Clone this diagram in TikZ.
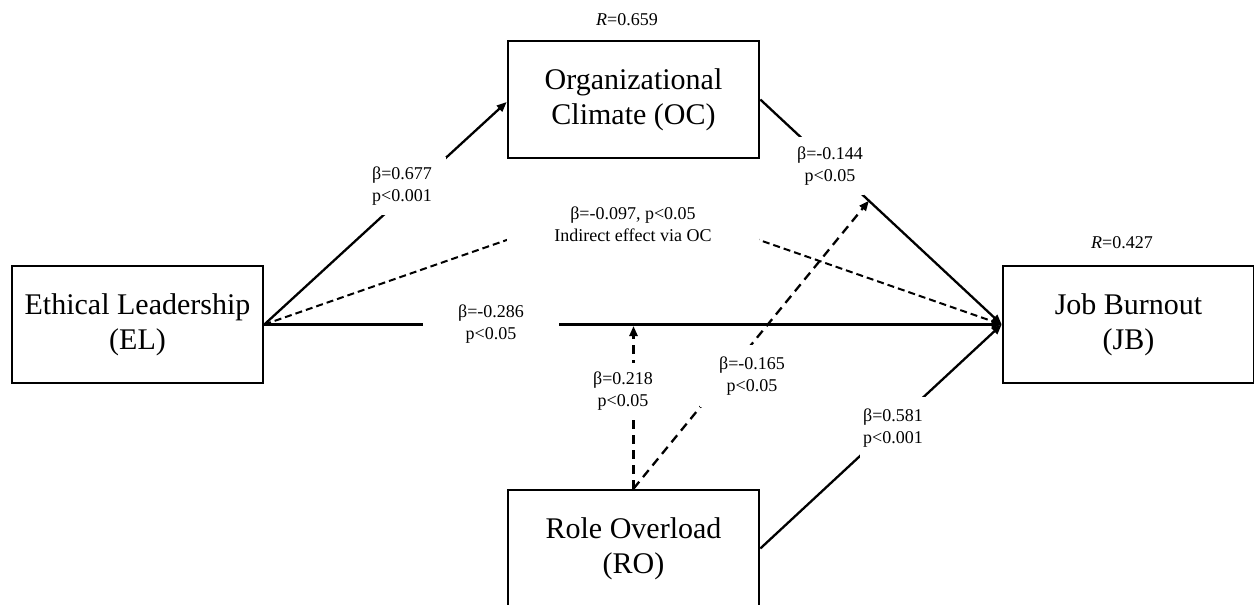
\documentclass[tikz,border=0pt]{standalone}
\usepackage{fontspec}
\setmainfont{Liberation Serif}
\usetikzlibrary{arrows.meta,calc}
\begin{document}
\begin{tikzpicture}[x=1pt,y=-1pt,
  box/.style={draw,line width=2.6pt,minimum width=251pt,minimum height=117pt,inner sep=0pt,align=center,font=\fontsize{30}{35}\selectfont},
  lab/.style={fill=white,inner sep=0pt,align=center,font=\fontsize{18}{22}\selectfont},
  rlab/.style={inner sep=0pt,font=\fontsize{18}{22}\selectfont},
  conn/.style={line width=2.3pt},
  arr/.style={-{Triangle[length=10pt,width=8pt]}},
  dsh/.style={dash pattern=on 9pt off 6pt},
  dshi/.style={line width=2pt,dash pattern=on 7pt off 4pt}]
\useasboundingbox (0,0) rectangle (1254,605);
\node[box] (EL) at (137.5,324.5) {Ethical Leadership\\(EL)};
\node[box] (OC) at (633.5,99.5) {Organizational\\Climate (OC)};
\node[box] (JB) at (1128.5,324.5) {Job Burnout\\(JB)};
\node[box] (RO) at (633.5,548.5) {Role Overload\\(RO)};
% connectors
\draw[conn,arr] (EL.east) -- ([yshift=-2.5pt]OC.west);
\draw[conn,arr] (EL.east) -- (JB.west);
\draw[conn,arr] (OC.east) -- (JB.west);
\draw[conn,arr] (RO.east) -- (JB.west);
\coordinate (peak) at (633,196);
\draw[dshi,arr] (EL.east) -- (peak) -- (JB.west);
\coordinate (m1) at (633.5,326);
\draw[conn,dsh,arr] (RO.north) -- (m1);
\coordinate (m2) at ($(OC.east)!0.45!(JB.west)$);
\draw[conn,dsh,arr] (RO.north) -- (m2);
% labels
\node[lab,minimum width=88pt,minimum height=58pt] (l677) at (402,186) {β=0.677\\p<0.001};
\node[lab,minimum width=136pt,minimum height=50pt] (l286) at (491,324) {β=-0.286\\p<0.05};
\node[lab,minimum width=252pt,minimum height=64pt] (l097) at (633,224) {β=-0.097, p<0.05\\Indirect effect via OC};
\node[lab,minimum width=68pt,minimum height=58pt] (l144) at (830,166) {β=-0.144\\p<0.05};
\node[lab,minimum width=60pt,minimum height=57pt] (l218) at (623,391) {β=0.218\\p<0.05};
\node[lab,minimum width=104pt,minimum height=62pt] (l165) at (752,376) {β=-0.165\\p<0.05};
\node[lab,minimum width=66pt,minimum height=62pt] (l581) at (893,428) {β=0.581\\p<0.001};
\node[rlab] (R1) at (627,20) {\textit{R}=0.659};
\node[rlab] (R2) at (1122,243) {\textit{R}=0.427};
\end{tikzpicture}
\end{document}
